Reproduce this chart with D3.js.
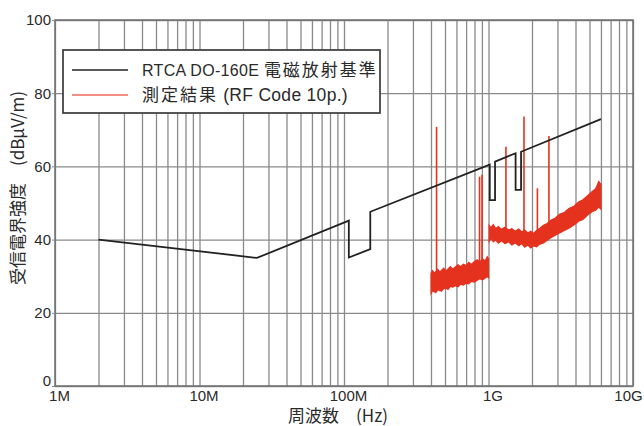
<!DOCTYPE html>
<html>
<head>
<meta charset="utf-8">
<script src="https://cdn.jsdelivr.net/npm/d3@7"></script>
<style>
  body { margin: 0; background: #fff; }
  svg text { font-family: "Liberation Sans", Arial, "Noto Sans CJK JP", sans-serif; fill: #2a2a2a; }
  .cjk { font-family: "Noto Sans CJK JP", sans-serif; }
</style>
</head>
<body>
<svg id="chart" width="644" height="426"></svg>
<script>
// axes
const xTickFreqs = [1e6, 1e7, 1e8, 1e9, 1e10];
const xTickLabels = ["1M", "10M", "100M", "1G", "10G"];
const yTicks = [0, 20, 40, 60, 80, 100];

// RTCA DO-160E limit (Hz, dBuV/m)
const limitFreq = [2e6, 25e6, 108e6, 108e6, 152e6, 152e6, 1.02e9, 1.02e9, 1.11e9, 1.11e9, 1.54e9, 1.54e9, 1.68e9, 1.68e9, 6e9];
const limitLevel = [40, 35, 45.2, 35.1, 37.4, 47.6, 60.5, 50.8, 50.8, 61.3, 63.6, 53.6, 53.6, 64, 72.9];

// measured noise band, 400 MHz - 1 GHz (MHz, upper / lower envelope)
const band1Freq = [400, 410, 420, 432, 445, 460, 472, 490, 505, 525, 545, 565, 590, 615, 640, 670, 700, 730, 760, 800, 835, 870, 910, 950, 980, 1000];
const band1Upper = [30.8, 31.5, 30.9, 31.2, 31.9, 31.1, 31.6, 32.2, 31.4, 32.0, 32.6, 31.9, 32.5, 33.1, 32.6, 33.3, 32.9, 33.8, 33.2, 34.0, 34.5, 33.9, 34.7, 34.2, 35.3, 34.8];
const band1Lower = [25.3, 26.0, 25.8, 25.5, 26.3, 26.1, 25.9, 26.6, 26.8, 26.4, 27.2, 27.0, 27.4, 27.1, 27.8, 27.6, 28.1, 27.9, 28.6, 28.4, 28.9, 29.3, 29.0, 29.5, 29.9, 29.6];

// measured noise band, 1 GHz - 6 GHz
const band2Freq = [1010, 1040, 1080, 1120, 1170, 1230, 1300, 1380, 1450, 1530, 1620, 1700, 1780, 1870, 1960, 2050, 2150, 2250, 2400, 2550, 2700, 2900, 3100, 3350, 3600, 3900, 4200, 4500, 4850, 5200, 5500, 5800, 6000];
const band2Upper = [43.9, 43.3, 44.1, 43.0, 43.6, 42.8, 43.4, 42.6, 43.0, 42.3, 42.9, 42.1, 42.6, 41.8, 42.3, 41.7, 42.5, 43.0, 43.9, 44.4, 45.3, 45.9, 46.9, 47.4, 48.5, 49.1, 50.3, 50.9, 52.0, 53.1, 53.8, 55.9, 55.1];
const band2Lower = [39.5, 40.3, 39.4, 39.9, 39.0, 39.7, 38.9, 39.4, 38.5, 39.1, 38.3, 38.9, 37.9, 38.5, 37.7, 38.3, 38.0, 38.7, 39.1, 39.8, 40.5, 41.2, 41.8, 42.5, 43.1, 44.0, 45.0, 45.5, 46.7, 47.6, 48.0, 48.9, 48.3];

// narrow-band spikes (MHz, peak dB, band level under spike)
const spikeFreq = [437, 867, 902, 1320, 1760, 2180, 2620];
const spikePeak = [70.8, 57.2, 57.7, 65.4, 73.6, 54.0, 68.3];
const spikeBase = [29, 32, 32, 41, 40, 40, 42];

const legendLabels = [
  [["RTCA DO-160E ", false], ["電磁放射基準", true]],
  [["測定結果", true], [" (RF Code 10p.)", false]]
];

const svg = d3.select("#chart");
const plotL = 55, plotR = 633, plotT = 20, plotB = 386;
const red = "#e5321f";
const gridColor = "#8a8a8a";

const x = d3.scaleLog().domain([1e6, 1e10]).range([plotL, plotR]);
const y = d3.scaleLinear().domain([0, 100]).range([plotB, plotT]);

// vertical grid: 1..9 in every decade
let gridFreqs = [];
for (let d = 6; d < 10; d++) {
  for (let m = 1; m < 10; m++) gridFreqs.push(m * Math.pow(10, d));
}
gridFreqs.push(1e10);

let xGrid = svg.append("g")
  .attr("transform", `translate(0,${plotB})`)
  .call(d3.axisBottom(x).tickValues(gridFreqs).tickSize(-(plotB - plotT)).tickFormat(""));
xGrid.select(".domain").remove();
xGrid.selectAll("line").attr("stroke", gridColor).attr("stroke-width", 1.3);

let yGrid = svg.append("g")
  .attr("transform", `translate(${plotL},0)`)
  .call(d3.axisLeft(y).tickValues(yTicks).tickSize(-(plotR - plotL)).tickFormat(""));
yGrid.select(".domain").remove();
yGrid.selectAll("line").attr("stroke", gridColor).attr("stroke-width", 1.3);

// frame
svg.append("rect")
  .attr("x", plotL).attr("y", plotT)
  .attr("width", plotR - plotL).attr("height", plotB - plotT)
  .attr("fill", "none").attr("stroke", "#707070").attr("stroke-width", 1.5);

// tick labels
let xLab = svg.append("g")
  .attr("transform", `translate(4,${plotB})`)
  .call(d3.axisBottom(x).tickValues(xTickFreqs).tickSize(0).tickPadding(4)
    .tickFormat((d, i) => xTickLabels[i]));
xLab.select(".domain").remove();
xLab.selectAll("text").attr("font-size", 15).style("font-family", "Liberation Sans, Arial, sans-serif")
  .attr("fill", "#2a2a2a")
  .attr("dx", (d, i) => i === 4 ? -9 : 0);

let yLab = svg.append("g")
  .attr("transform", `translate(${plotL},0)`)
  .call(d3.axisLeft(y).tickValues(yTicks).tickSize(3).tickPadding(1));
yLab.select(".domain").remove();
yLab.selectAll("line").attr("stroke", gridColor);
yLab.selectAll("text").attr("font-size", 15).style("font-family", "Liberation Sans, Arial, sans-serif")
  .attr("fill", "#2a2a2a")
  .attr("dy", d => d === 0 ? "-0.05em" : "0.32em");

// axis titles
svg.append("text")
  .attr("class", "cjk")
  .attr("x", 338).attr("y", 422)
  .attr("text-anchor", "middle")
  .attr("font-size", 17)
  .text("周波数　(Hz)");

svg.append("text")
  .attr("class", "cjk")
  .attr("transform", "translate(24,188) rotate(-90)")
  .attr("text-anchor", "middle")
  .attr("font-size", 17)
  .text("受信電界強度　(dBμV/m)");

// measured data
const area = d3.area()
  .x(d => x(d[0] * 1e6))
  .y0(d => y(d[2]))
  .y1(d => y(d[1]));

svg.append("path")
  .datum(band1Freq.map((f, i) => [f, band1Upper[i], band1Lower[i]]))
  .attr("d", area)
  .attr("fill", red).attr("stroke", red).attr("stroke-width", 1.2);

svg.append("path")
  .datum(band2Freq.map((f, i) => [f, band2Upper[i], band2Lower[i]]))
  .attr("d", area)
  .attr("fill", red).attr("stroke", red).attr("stroke-width", 1.2);

svg.selectAll(".spike")
  .data(spikeFreq)
  .enter().append("line")
  .attr("class", "spike")
  .attr("x1", d => x(d * 1e6)).attr("x2", d => x(d * 1e6))
  .attr("y1", (d, i) => y(spikeBase[i]))
  .attr("y2", (d, i) => y(spikePeak[i]))
  .attr("stroke", red).attr("stroke-width", 1.6);

// limit line
svg.append("path")
  .datum(limitFreq.map((f, i) => [f, limitLevel[i]]))
  .attr("d", d3.line().x(d => x(d[0])).y(d => y(d[1])))
  .attr("fill", "none").attr("stroke", "#222").attr("stroke-width", 1.8);

// legend
let legend = svg.append("g");
legend.append("rect")
  .attr("x", 63).attr("y", 50).attr("width", 317).attr("height", 63)
  .attr("fill", "#fff").attr("stroke", "#444").attr("stroke-width", 1.8);

const legendColors = ["#222", "#ef6a5c"];
legendLabels.forEach((parts, i) => {
  let ly = 70 + i * 25;
  legend.append("line")
    .attr("x1", 72).attr("x2", 128).attr("y1", ly).attr("y2", ly)
    .attr("stroke", legendColors[i]).attr("stroke-width", 1.4);
  let t = legend.append("text").attr("x", 142).attr("y", ly + 6);
  parts.forEach(p => {
    t.append("tspan")
      .attr("class", p[1] ? "cjk" : null)
      .attr("font-size", p[1] ? 17 : (i === 0 ? 16 : 17.5))
      .attr("letter-spacing", p[1] ? 2 : 0.3)
      .text(p[0]);
  });
});
</script>
</body>
</html>
